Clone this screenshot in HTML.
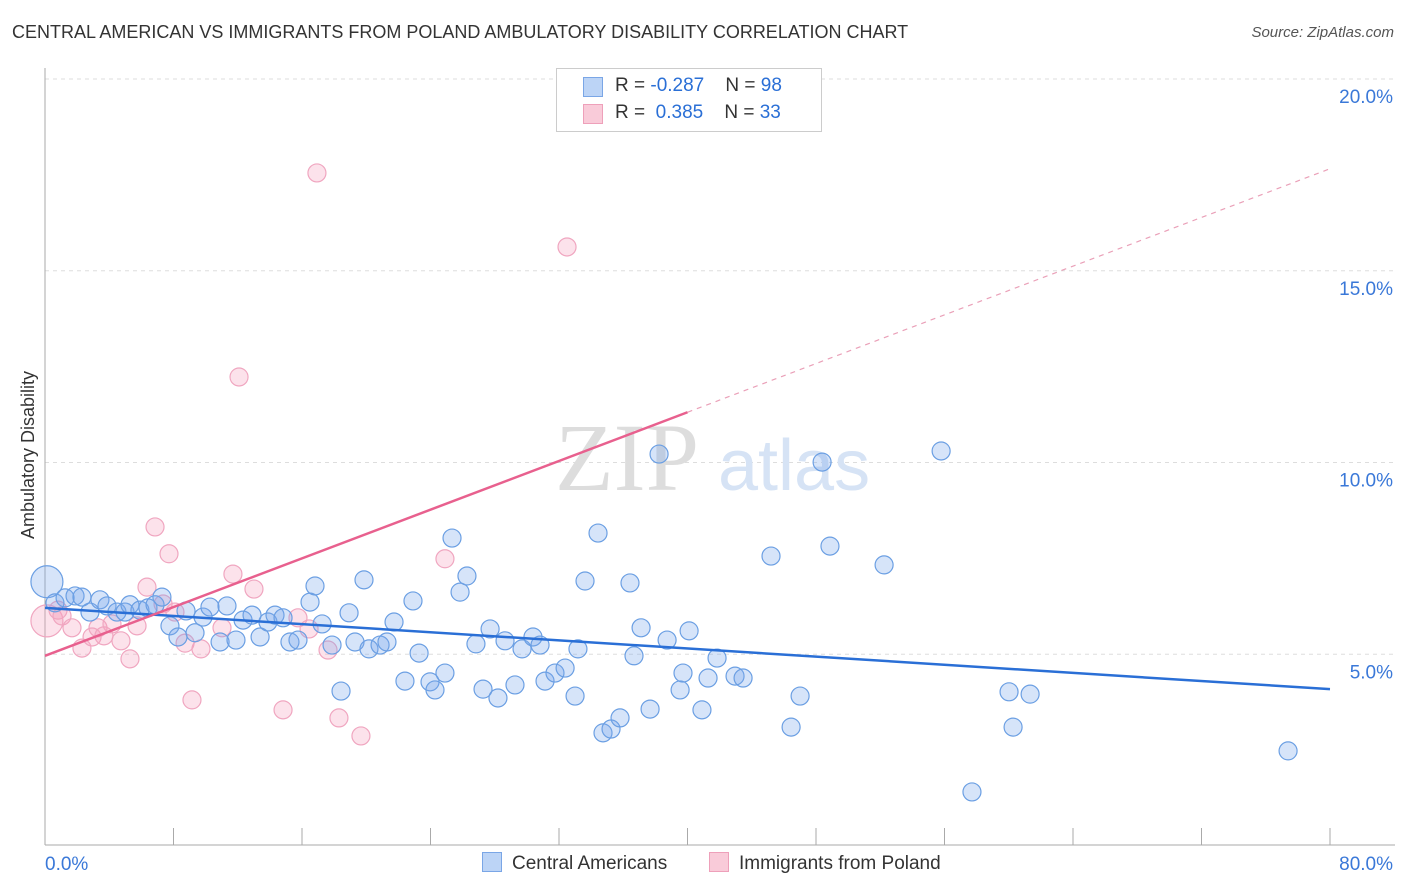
<!DOCTYPE html>
<html><head><meta charset="utf-8"><style>
body{margin:0;background:#fff;font-family:"Liberation Sans",sans-serif}
#wrap{position:relative;width:1406px;height:892px;overflow:hidden}
.t{position:absolute;white-space:nowrap}
</style></head><body>
<div id="wrap">
<div class="t" style="left:12px;top:22px;font-size:18px;color:#333">CENTRAL AMERICAN VS IMMIGRANTS FROM POLAND AMBULATORY DISABILITY CORRELATION CHART</div>
<div class="t" style="right:12px;top:24px;font-size:15px;color:#555;font-style:italic">Source: ZipAtlas.com</div>
<svg id="svg" width="1406" height="892" style="position:absolute;left:0;top:0"></svg>
</div>
<script>
const xTicks=[0,80];
const yTicks=[5,10,15,20];
const blueX=[0.12,0.62,1.25,1.87,2.30,2.80,3.42,3.86,4.48,4.98,5.29,5.91,6.41,6.85,7.28,7.78,8.28,8.78,9.34,9.84,10.27,10.90,11.33,11.89,12.33,12.89,13.39,13.88,14.32,14.82,15.25,15.75,16.50,16.81,17.25,17.87,18.43,18.93,19.30,19.86,20.17,20.86,21.29,21.73,22.41,22.91,23.29,23.97,24.28,24.90,25.34,25.84,26.27,26.83,27.27,27.71,28.20,28.64,29.26,29.70,30.38,30.82,31.13,31.75,32.38,33.00,33.18,33.62,34.43,34.74,35.24,35.80,36.42,36.67,37.11,37.67,38.73,39.54,39.72,40.10,40.90,41.28,41.84,42.96,43.46,38.23,45.20,46.45,47.01,48.38,48.87,52.24,55.79,57.71,60.02,60.27,61.33,77.39];
const blueY=[6.89,6.34,6.47,6.52,6.49,6.10,6.42,6.26,6.10,6.10,6.29,6.15,6.21,6.29,6.49,5.74,5.45,6.13,5.56,5.97,6.23,5.32,6.26,5.37,5.89,6.02,5.45,5.84,6.02,5.95,5.32,5.37,6.36,6.78,5.79,5.24,4.04,6.08,5.32,6.94,5.14,5.24,5.32,5.84,4.30,6.39,5.03,4.28,4.07,4.51,8.03,6.62,7.04,5.27,4.09,5.66,3.86,5.35,4.20,5.14,5.45,5.24,4.30,4.51,4.64,3.91,5.14,6.91,8.16,2.95,3.05,3.34,6.86,4.96,5.69,3.57,5.37,4.07,4.51,5.61,3.55,4.38,4.90,4.43,4.38,10.22,7.56,3.10,3.91,10.01,7.82,7.33,10.30,1.41,4.02,3.10,3.96,2.48];
const pinkX=[0.12,0.81,1.06,1.68,2.30,2.93,3.30,3.67,4.17,4.73,5.29,5.73,6.35,6.85,7.35,7.72,8.09,8.72,9.15,9.71,11.02,11.70,12.08,13.01,14.82,15.75,16.44,16.93,17.62,18.30,19.67,24.90,32.50];
const pinkY=[5.87,6.15,6.00,5.69,5.16,5.45,5.69,5.48,5.79,5.35,4.88,5.74,6.75,8.32,6.31,7.62,6.10,5.29,3.81,5.14,5.69,7.09,12.23,6.70,3.55,5.95,5.66,17.55,5.11,3.34,2.87,7.49,15.62];
const blueTrend=[6.21,4.09];
const pinkTrend=[4.96,17.66];
const X=v=>45+v/80*1285, Y=v=>846-v*38.35;
const svg=document.getElementById('svg');
const NS='http://www.w3.org/2000/svg';
function mk(t,a,p){const e=document.createElementNS(NS,t);for(const k in a)e.setAttribute(k,a[k]);(p||svg).appendChild(e);return e;}
// grid
yTicks.forEach(v=>{
 const l=mk('line',{x1:45,x2:1395,y1:Y(v),y2:Y(v),stroke:'#ddd','stroke-dasharray':'4,4'});
 
 
 const t=mk('text',{x:1393,y:Y(v)+24,'text-anchor':'end','font-size':19,fill:'#3a78d8','font-family':'Liberation Sans'});
 t.textContent=v.toFixed(1)+'%';
 
 
});
const ax=mk('line',{x1:45,x2:45,y1:68,y2:845,stroke:'#aaa'});


const bx=mk('line',{x1:45,x2:1395,y1:845,y2:845,stroke:'#aaa'});


for(let i=0;i<=10;i++){const tk=mk('line',{x1:X(i*8),x2:X(i*8),y1:828,y2:845,stroke:'#aaa'});
 
 }
xTicks.forEach((v,i)=>{const t=mk('text',{x:i?1393:45,y:870,'text-anchor':i?'end':'start','font-size':19,fill:'#3a78d8','font-family':'Liberation Sans'});
 t.textContent=v.toFixed(1)+'%';
 
 });
const yt=mk('text',{x:34,y:455,'text-anchor':'middle','font-size':18,fill:'#333','font-family':'Liberation Sans',transform:'rotate(-90 34 455)'});
yt.textContent='Ambulatory Disability';


// watermark
const wm=mk('text',{x:555,y:490,'font-size':96,fill:'#ddd','font-family':'Liberation Serif'});
wm.textContent='ZIP';


const wm2=mk('text',{x:718,y:490,'font-size':72,fill:'#d6e3f5','font-family':'Liberation Sans'});
wm2.textContent='atlas';


// points
pinkX.forEach((v,i)=>{const c=mk('circle',{cx:X(v),cy:Y(pinkY[i]),r:i==0?16:9,fill:'rgba(244,160,190,0.3)',stroke:'#f0a6c0','stroke-width':1.2});
 
 });
blueX.forEach((v,i)=>{const c=mk('circle',{cx:X(v),cy:Y(blueY[i]),r:i==0?16:9,fill:'rgba(120,165,235,0.3)',stroke:'#6b9fe3','stroke-width':1.2});
 
 });
// trends
const bl=mk('line',{x1:X(0),y1:Y(blueTrend[0]),x2:X(80),y2:Y(blueTrend[1]),stroke:'#2a6fd6','stroke-width':2.5});


const pm=(pinkTrend[0]+pinkTrend[1])/2;
const pl=mk('line',{x1:X(0),y1:Y(pinkTrend[0]),x2:X(40),y2:Y(pm),stroke:'#e8608e','stroke-width':2.5});


const pd=mk('line',{x1:X(40),y1:Y(pm),x2:X(80),y2:Y(pinkTrend[1]),stroke:'#eaa0b8','stroke-width':1.2,'stroke-dasharray':'5,5'});


</script>
<div class="t" style="left:556px;top:68px;width:264px;height:62px;border:1px solid #ccc;background:#fff">
 <div style="position:absolute;left:26px;top:8px;width:18px;height:18px;background:#bcd4f6;border:1px solid #7aa6e6"></div>
 <div style="position:absolute;left:58px;top:6px;font-size:19px;color:#333">R = <span style="color:#2a6fd6">-0.287</span>&nbsp;&nbsp;&nbsp; N = <span style="color:#2a6fd6">98</span></div>
 <div style="position:absolute;left:26px;top:35px;width:18px;height:18px;background:#f9cbd9;border:1px solid #eea0ba"></div>
 <div style="position:absolute;left:58px;top:33px;font-size:19px;color:#333">R = &nbsp;<span style="color:#2a6fd6">0.385</span>&nbsp;&nbsp;&nbsp; N = <span style="color:#2a6fd6">33</span></div>
</div>
<div class="t" style="left:482px;top:852px;font-size:19px;color:#333"><span style="display:inline-block;width:18px;height:18px;background:#bcd4f6;border:1px solid #7aa6e6;vertical-align:-3px;margin-right:10px"></span>Central Americans</div>
<div class="t" style="left:709px;top:852px;font-size:19px;color:#333"><span style="display:inline-block;width:18px;height:18px;background:#f9cbd9;border:1px solid #eea0ba;vertical-align:-3px;margin-right:10px"></span>Immigrants from Poland</div>
</body></html>
